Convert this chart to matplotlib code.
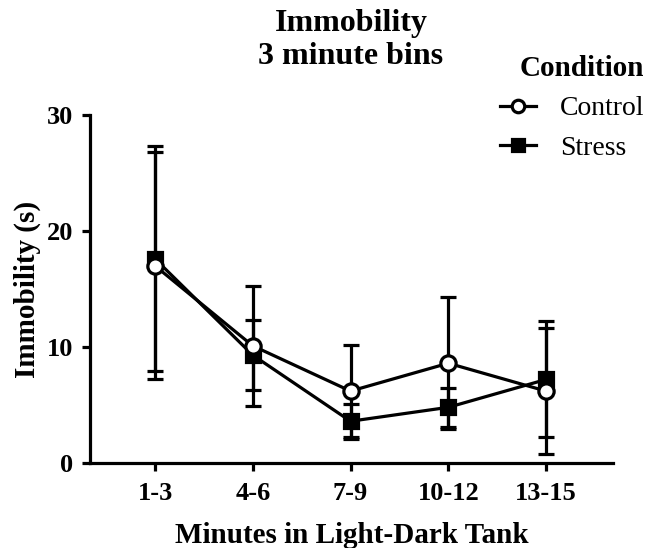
import matplotlib
matplotlib.use("Agg")
import matplotlib.pyplot as plt
from matplotlib.lines import Line2D

categories = ["1-3", "4-6", "7-9", "10-12", "13-15"]
control_mean = [17.0, 10.1, 6.2, 8.6, 6.2]
control_err = [9.8, 5.2, 4.0, 5.7, 5.4]
stress_mean = [17.6, 9.3, 3.6, 4.8, 7.2]
stress_err = [9.7, 3.0, 1.5, 1.7, 5.0]
yticks = [0, 10, 20, 30]

plt.rcParams['font.family'] = ['Liberation Serif', 'DejaVu Serif']

fig = plt.figure(figsize=(6.52, 5.48), dpi=100)
ax = fig.add_axes([90/652, 1-463/548, (613-90)/652, (463-115)/548])

x = list(range(len(categories)))
lw = 2.3
ax.errorbar(x, stress_mean, yerr=stress_err, color='black', lw=lw, marker='s',
            ms=10, mfc='black', mec='black', mew=lw, capsize=6, capthick=lw,
            elinewidth=lw, clip_on=False, zorder=3)
ax.errorbar(x, control_mean, yerr=control_err, color='black', lw=lw, marker='o',
            ms=11, mfc='white', mec='black', mew=lw, capsize=6, capthick=lw,
            elinewidth=lw, clip_on=False, zorder=4)

ax.set_xlim(-0.665, 4.685)
ax.set_ylim(0, 30)
ax.set_xticks(x)
ax.set_xticklabels(categories, fontsize=19, fontweight='bold')
ax.set_yticks(yticks)
ax.set_yticklabels([str(v) for v in yticks], fontsize=19, fontweight='bold')
for s in ['top', 'right']:
    ax.spines[s].set_visible(False)
for s in ['left', 'bottom']:
    ax.spines[s].set_linewidth(2.3)
ax.tick_params(axis='both', width=2.3, length=6, direction='out', pad=6)
ax.tick_params(axis='x', pad=8)

ax.set_xlabel("Minutes in Light-Dark Tank", fontsize=21, fontweight='bold', labelpad=12)
ax.set_ylabel("Immobility (s)", fontsize=21, fontweight='bold', labelpad=4)

fig.text(351/652, 1-40/548, "Immobility\n3 minute bins", ha='center', va='center',
         fontsize=23, fontweight='bold', linespacing=1.15)

handles = [
    Line2D([], [], color='black', lw=lw, marker='o', ms=9, mfc='white', mec='black', mew=lw),
    Line2D([], [], color='black', lw=lw, marker='s', ms=9, mfc='black', mec='black', mew=lw),
]
leg = fig.legend(handles, ["Control", "Stress"], loc='upper left',
                 bbox_to_anchor=(500/652, 1-55/548), frameon=False,
                 fontsize=20, title="Condition", handlelength=1.3,
                 handletextpad=0.85, labelspacing=0.5, borderpad=0,
                 borderaxespad=0)
leg.get_title().set_fontweight('bold')
leg.get_title().set_fontsize(21)
leg._legend_box.align = 'right'

fig.savefig("out.png", dpi=100)
